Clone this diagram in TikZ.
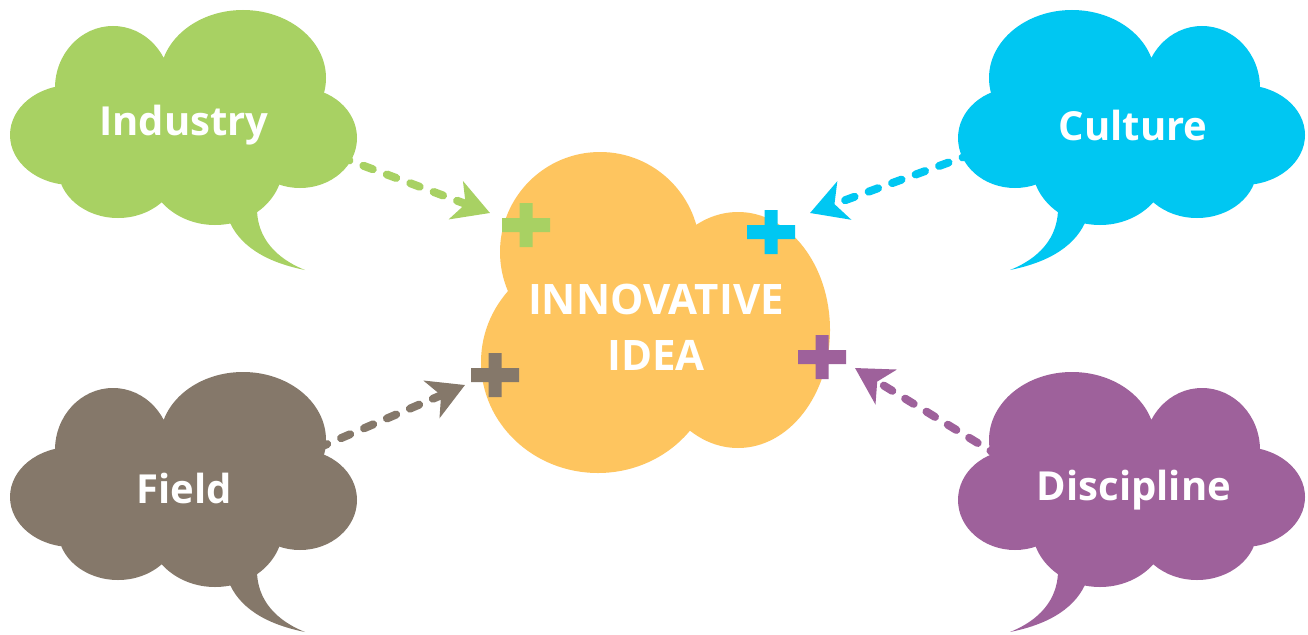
\documentclass[tikz,border=0pt]{standalone}
\usepackage{fontspec}
\setmainfont{Open Sans}
\usetikzlibrary{arrows.meta}
\definecolor{cgreen}{HTML}{A8D163}
\definecolor{cblue}{HTML}{00C7F2}
\definecolor{ctaupe}{HTML}{85786A}
\definecolor{cpurple}{HTML}{9E619B}
\definecolor{corange}{HTML}{FEC55F}
\newcommand\speechcloud[1]{%
  \fill[#1] (113,88) ellipse [x radius=58pt, y radius=62pt]
    (243,78) ellipse [x radius=83pt, y radius=68pt]
    (72,135) ellipse [x radius=62pt, y radius=50pt]
    (300,138) ellipse [x radius=57pt, y radius=50pt]
    (118,168) ellipse [x radius=60pt, y radius=50pt]
    (215,165) ellipse [x radius=68pt, y radius=60pt]
    (185,130) ellipse [x radius=120pt, y radius=70pt];
  \fill[#1] (228,218) .. controls (238,245) and (265,262) .. (305,270)
    .. controls (285,262) and (258,245) .. (257,210) -- cycle;}
\newcommand\plussign[3]{%
  \fill[#3] (#1-24,#2-7) rectangle (#1+24,#2+7) (#1-6.5,#2-22) rectangle (#1+6.5,#2+22);}
\tikzset{
  cloudlabel/.style={text=white, font=\fontsize{40}{48}\selectfont\bfseries, inner sep=0pt},
  ideatext/.style={text=white, font=\fontsize{42}{56}\selectfont\bfseries, align=center, inner sep=0pt},
  link/.style={line width=8pt, dash pattern=on 10pt off 15pt, line cap=round,
    -{Stealth[length=36pt 0 0,width=40pt 0 0,inset=10pt 0 0]}}
}
\begin{document}
\begin{tikzpicture}[x=1pt,y=-1pt]
\path[fill=white, use as bounding box] (0,0) rectangle (1308,634);

% connectors (drawn first so their tails tuck under the clouds)
\coordinate (indS) at (340,157);
\coordinate (indT) at (490,213);
\coordinate (culS) at (972,154);
\coordinate (culT) at (810,213);
\coordinate (fldS) at (318,448);
\coordinate (fldT) at (465,385);
\coordinate (disS) at (999,456);
\coordinate (disT) at (855,368);
\draw[link, cgreen] (indS) -- (indT);
\draw[link, cblue] (culS) -- (culT);
\draw[link, ctaupe] (fldS) -- (fldT);
\draw[link, cpurple] (disS) -- (disT);

% side clouds
\speechcloud{cgreen}
\begin{scope}[shift={(1315,0)}, xscale=-1]
  \speechcloud{cblue}
\end{scope}
\begin{scope}[shift={(0,362)}]
  \speechcloud{ctaupe}
\end{scope}
\begin{scope}[shift={(1315,362)}, xscale=-1]
  \speechcloud{cpurple}
\end{scope}

\node[cloudlabel] (ind) at (184,125) {Industry};
\node[cloudlabel] (cul) at (1133,125) {Culture};
\node[cloudlabel] (fld) at (184,488) {Field};
\node[cloudlabel] (dis) at (1134,490) {Discipline};

% central cloud
\fill[corange] (600,252) circle [radius=100pt]
  (738,330) ellipse [x radius=92pt, y radius=118pt]
  (598,362) ellipse [x radius=117pt, y radius=111pt]
  (650,330) ellipse [x radius=120pt, y radius=90pt];
\node[ideatext] (idea) at (656,327) {INNOVATIVE\\IDEA};

% plus signs
\plussign{526}{225}{cgreen}
\plussign{771}{232}{cblue}
\plussign{495}{375}{ctaupe}
\plussign{822}{357}{cpurple}
\end{tikzpicture}
\end{document}
